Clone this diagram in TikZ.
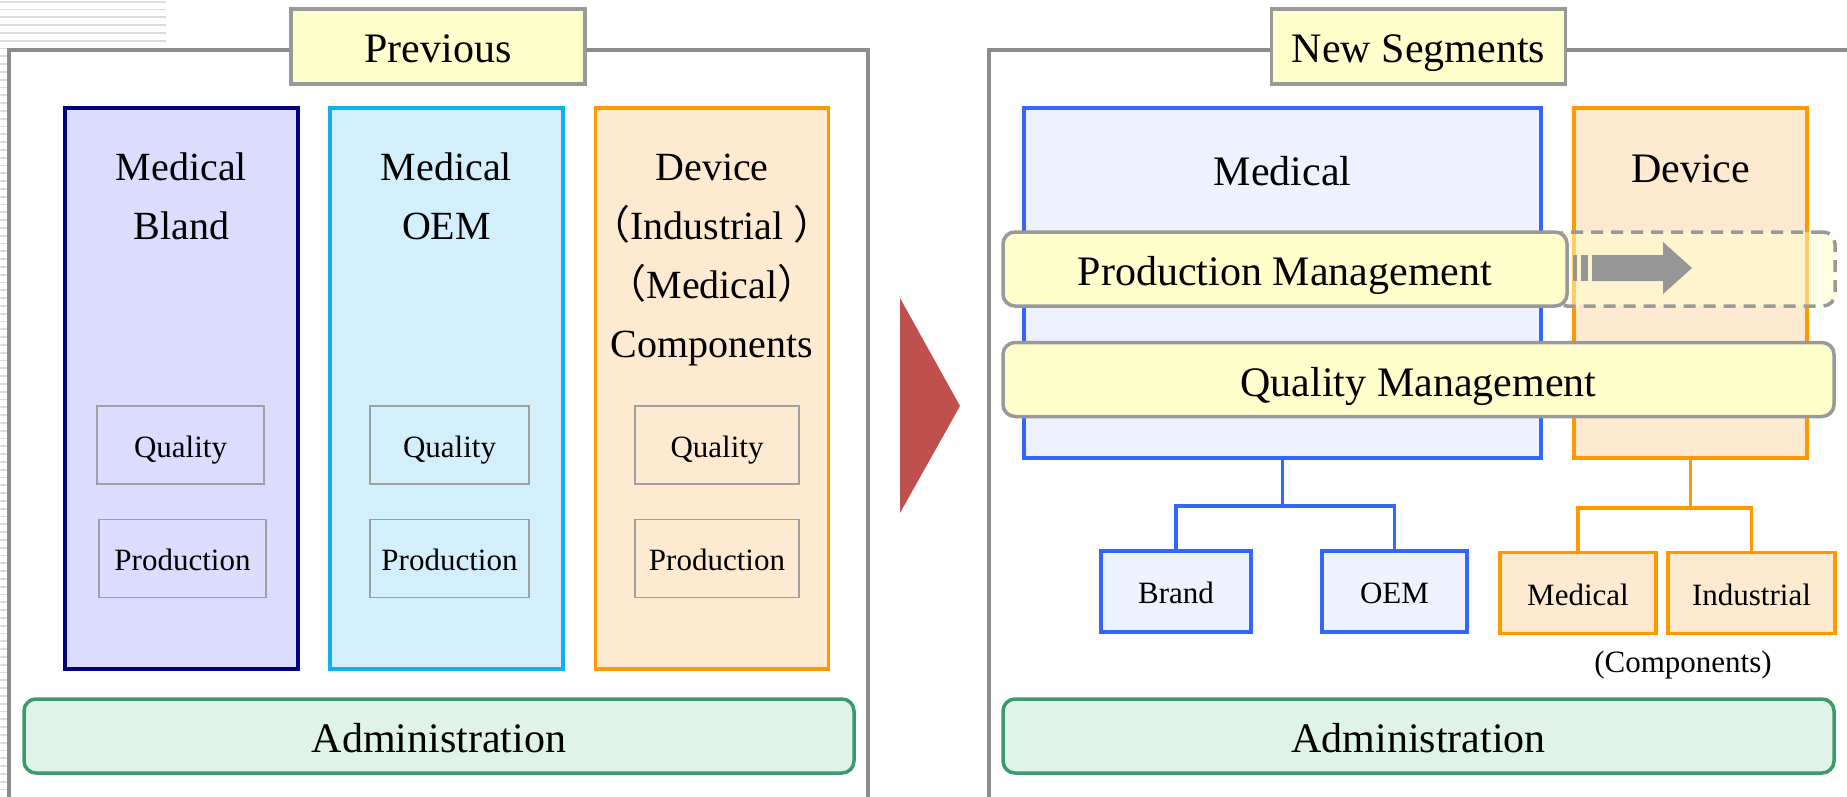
\documentclass[tikz,border=0pt]{standalone}
\usepackage{fontspec}
\setmainfont{Liberation Serif}
\newfontfamily\cjk{Noto Sans CJK JP}
\usetikzlibrary{positioning}

\definecolor{framegray}{HTML}{8C8C8C}
\definecolor{boxgray}{HTML}{999999}
\definecolor{smallgray}{HTML}{A0A0A0}
\definecolor{stripegray}{HTML}{DCDCDC}
\definecolor{paleyellow}{HTML}{FFFFCC}
\definecolor{navy}{HTML}{000080}
\definecolor{navyfill}{HTML}{DCDCFF}
\definecolor{sky}{HTML}{12B0F2}
\definecolor{skyfill}{HTML}{D4EFFC}
\definecolor{orng}{HTML}{FF9900}
\definecolor{orngfill}{HTML}{FDEAD0}
\definecolor{bluer}{HTML}{3366FF}
\definecolor{bluefill}{HTML}{EEF2FE}
\definecolor{admgreen}{HTML}{3D9B6B}
\definecolor{admfill}{HTML}{DFF3E8}
\definecolor{arrred}{HTML}{C0504D}
\definecolor{arrgray}{HTML}{969696}

\begin{document}
\begin{tikzpicture}[
    x=1pt, y=-1pt,
    stripe/.style={draw=stripegray, line width=1.7pt},
    frame/.style={draw=framegray, line width=3.5pt},
    bigfont/.style={font=\fontsize{42}{50}\selectfont, text height=33pt, text depth=0pt},
    smallfont/.style={font=\fontsize{31}{37}\selectfont, text height=24pt, text depth=0pt},
    titlebox/.style={rectangle, draw=boxgray, fill=paleyellow, line width=3.5pt,
                minimum width=294pt, minimum height=75pt, bigfont},
    colbox/.style={rectangle, line width=3.5pt, minimum width=233pt, minimum height=561pt},
    coltxt/.style={align=center, font=\fontsize{40}{59}\selectfont},
    smallbox/.style={rectangle, draw=smallgray, line width=1.5pt, minimum height=78pt,
                smallfont},
    bar/.style={rectangle, draw=boxgray, fill=paleyellow, rounded corners=12pt,
                line width=3.5pt, minimum height=74pt, bigfont},
    admin/.style={rectangle, draw=admgreen, fill=admfill, rounded corners=12pt,
                line width=3.5pt, minimum width=830pt, minimum height=74pt, bigfont},
    leaf/.style={rectangle, line width=3.5pt, minimum height=81pt, smallfont},
    tree/.style={line width=3.5pt},
  ]
  \useasboundingbox (0,0) rectangle (1847,797);

  % striped margin
  \foreach \k in {0,...,101}
    \draw[stripe] (0,1.7+7.8*\k) -- (7,1.7+7.8*\k);
  \foreach \k in {0,...,5}
    \draw[stripe] (0,1.7+7.8*\k) -- (166,1.7+7.8*\k);

  % the two panels
  \draw[frame] (9,50) rectangle (868,830);
  \draw[frame] (989,50) rectangle (1900,830);
  \node[titlebox] (prev) at (438,46.5) {Previous};
  \node[titlebox] (news) at (1418.5,46.5) {New Segments};

  % left: three segments
  \node[colbox, draw=navy, fill=navyfill] (bland) at (181.5,388.5) {};
  \node[colbox, draw=sky, fill=skyfill] (oem) at (446.5,388.5) {};
  \node[colbox, draw=orng, fill=orngfill] (dev) at (712,388.5) {};
  \node[coltxt] (blandtxt) at (181.5,196.5) {Medical\\Bland};
  \node[coltxt] (oemtxt) at (446.5,196.5) {Medical\\OEM};
  \node[coltxt] (devtxt) at (712,260.5)
    {Device\\{\cjk （}Industrial {\cjk ）}\\{\cjk （}Medical{\cjk ）}\\Components};

  \node[smallbox, minimum width=167pt] (q1) at (180.5,445) {Quality};
  \node[smallbox, minimum width=167pt] (pr1) at (182.5,558.5) {Production};
  \node[smallbox, minimum width=159pt] (q2) at (449.5,445) {Quality};
  \node[smallbox, minimum width=159pt] (pr2) at (449.5,558.5) {Production};
  \node[smallbox, minimum width=164pt] (q3) at (717,445) {Quality};
  \node[smallbox, minimum width=164pt] (pr3) at (717,558.5) {Production};

  \node[admin] (adm1) at (439,736) {Administration};

  % transition
  \fill[arrred] (900,298) -- (960,406) -- (900,513) -- cycle;

  % right: two segments
  \node[colbox, draw=bluer, fill=bluefill, minimum width=517pt, minimum height=350pt]
    (medR) at (1282.5,283) {};
  \node[colbox, draw=orng, fill=orngfill, minimum width=233pt, minimum height=350pt]
    (devR) at (1690.5,283) {};
  \node[bigfont] (medRtxt) at (1282.5,169) {Medical};
  \node[bigfont] (devRtxt) at (1690.5,166) {Device};

  % production management moves over
  \node[bar, dash pattern=on 12pt off 8pt, fill opacity=0.5, minimum width=280pt]
    (ghost) at (1695,269) {};
  \node[bar, minimum width=564pt] (pm) at (1285,269) {Production Management};
  \fill[arrgray] (1573,255) rectangle (1577,281);
  \fill[arrgray] (1581,255) rectangle (1588,281);
  \fill[arrgray] (1592,255) -- (1663,255) -- (1663,242) -- (1692,268)
    -- (1663,294) -- (1663,281) -- (1592,281) -- cycle;

  \node[bar, minimum width=831pt] (qm) at (1418.5,379.5) {Quality Management};

  % sub units
  \node[leaf, draw=bluer, fill=bluefill, minimum width=150pt] (brand) at (1176,591.5) {Brand};
  \node[leaf, draw=bluer, fill=bluefill, minimum width=145pt] (oemR) at (1394.5,591.5) {OEM};
  \node[leaf, draw=orng, fill=orngfill, minimum width=156pt] (medC) at (1578,593) {Medical};
  \node[leaf, draw=orng, fill=orngfill, minimum width=167pt] (indC) at (1751.5,593) {Industrial};
  \node[smallfont] (comp) at (1683,660) {(Components)};

  \draw[tree, bluer] (medR.south) -- ++(0,46) -| (brand.north);
  \draw[tree, bluer] (medR.south) -- ++(0,46) -| (oemR.north);
  \draw[tree, orng] (devR.south) -- ++(0,48) -| (medC.north);
  \draw[tree, orng] (devR.south) -- ++(0,48) -| (indC.north);

  \node[admin, minimum width=831pt] (adm2) at (1418.5,736) {Administration};
\end{tikzpicture}
\end{document}
